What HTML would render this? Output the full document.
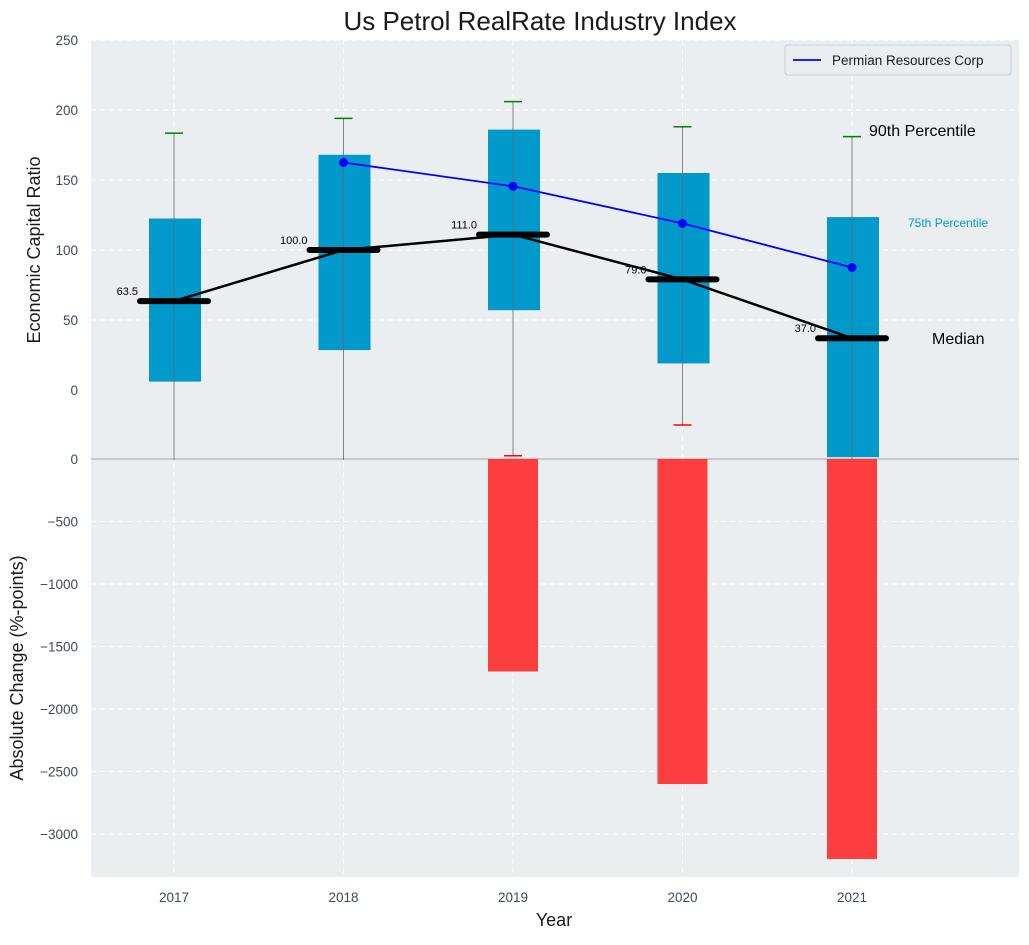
<!DOCTYPE html>
<html><head><meta charset="utf-8"><style>
body{margin:0;background:#fff;}
svg text{font-family:"Liberation Sans",sans-serif;}
</style></head><body>
<svg id="c" width="1029" height="940" xmlns="http://www.w3.org/2000/svg"></svg>
<script>
const years=[2017,2018,2019,2020,2021];
const q25=[6,28.5,57,19,-48];
const q75=[122.5,168,186,155,123.5];
const medians=[63.5,100,111,79,37];
const p90=[183.5,194,206,188,181];
const p10=[-50,-50,-47,-25,-50];
const permianYears=[2018,2019,2020,2021];
const permian=[162.5,145.5,119,87.5];
const changes=[0,0,-1700,-2600,-3200];
const topTicks=[0,50,100,150,200,250];
const botTicks=[0,-500,-1000,-1500,-2000,-2500,-3000];

const NS="http://www.w3.org/2000/svg";
const svg=document.getElementById('c');
function el(t,a,p){const e=document.createElementNS(NS,t);for(const k in a)e.setAttribute(k,a[k]);(p||svg).appendChild(e);return e;}
const X=v=>174+(v-2017)*169.5;
const YT=v=>390-v*1.4;
const YB=v=>459-v*0.125;
const L=91,R=1019;

let bg=el('rect',{x:L,y:40,width:R-L,height:837,fill:'#eaeef0'});

topTicks.forEach(t=>{if(t>0)el('line',{x1:L,x2:R,y1:YT(t),y2:YT(t),stroke:'#fff','stroke-dasharray':'5,4','stroke-width':1});
 let tx=el('text',{x:78,y:YT(t)+5,'text-anchor':'end','font-size':13.5,fill:'#3c4a5a'});tx.textContent=t;
 });
botTicks.forEach(t=>{if(t<0)el('line',{x1:L,x2:R,y1:YB(t),y2:YB(t),stroke:'#fff','stroke-dasharray':'5,4','stroke-width':1});
 let tx=el('text',{x:78,y:YB(t)+5,'text-anchor':'end','font-size':13.5,fill:'#3c4a5a'});tx.textContent=t===0?'':(t<0?'\u2212'+(-t):t);
 });
let z=el('text',{x:78,y:464,'text-anchor':'end','font-size':13.5,fill:'#3c4a5a'});z.textContent='0';
years.forEach(y=>{el('line',{x1:X(y),x2:X(y),y1:40,y2:877,stroke:'#fff','stroke-dasharray':'5,4'});
 let tx=el('text',{x:X(y),y:902,'text-anchor':'middle','font-size':13.5,fill:'#3c4a5a'});tx.textContent=y;
 });
el('line',{x1:L,x2:R,y1:459,y2:459,stroke:'#bbb','stroke-width':1.5});

years.forEach((y,i)=>{if(changes[i]<0){let r=el('rect',{x:X(y)-25,y:459,width:50,height:YB(changes[i])-459,fill:'#ff2a2a','fill-opacity':0.9});
 }});
years.forEach((y,i)=>{let r=el('rect',{x:X(y)-25,y:YT(q75[i]),width:52,height:YT(q25[i])-YT(q75[i]),fill:'#0099cc'});
 
 el('line',{x1:X(y),x2:X(y),y1:YT(p90[i]),y2:YT(p10[i]),stroke:'#666','stroke-width':1,'stroke-opacity':0.8});
 let c=el('line',{x1:X(y)-9,x2:X(y)+9,y1:YT(p90[i]),y2:YT(p90[i]),stroke:'green','stroke-width':1.5});
 
 if(p10[i]>-48){el('line',{x1:X(y)-9,x2:X(y)+9,y1:YT(p10[i]),y2:YT(p10[i]),stroke:'red','stroke-width':1.5});}
});
let mp=el('polyline',{points:years.map((y,i)=>X(y)+','+YT(medians[i])).join(' '),fill:'none',stroke:'#000','stroke-width':2.5});

years.forEach((y,i)=>{let m=el('line',{x1:X(y)-34,x2:X(y)+34,y1:YT(medians[i]),y2:YT(medians[i]),stroke:'#000','stroke-width':6,'stroke-linecap':'round'});
 
 let t=el('text',{x:X(y)-36,y:YT(medians[i])-6,'text-anchor':'end','font-size':11,fill:'#000'});t.textContent=medians[i].toFixed(1);
 });
let pl=el('polyline',{points:permianYears.map((y,i)=>X(y)+','+YT(permian[i])).join(' '),fill:'none',stroke:'#0000ff','stroke-width':1.8});

permianYears.forEach((y,i)=>{let c=el('circle',{cx:X(y),cy:YT(permian[i]),r:4.5,fill:'#0000ff'});
 });
function txt(s,a,n){let t=el('text',a);t.textContent=s;return t;}
txt('90th Percentile',{x:869,y:136,'font-size':16,fill:'#000'},'p90-annotation');
txt('75th Percentile',{x:908,y:227,'font-size':12,fill:'#0099cc'},'p75-annotation');
txt('Median',{x:932,y:344,'font-size':16,fill:'#000'},'median-annotation');
txt('Us Petrol RealRate Industry Index',{x:540,y:30,'text-anchor':'middle','font-size':26,fill:'#1a1a1a'},'chart-title');
txt('Year',{x:554,y:926,'text-anchor':'middle','font-size':18,fill:'#1a1a1a'},'x-axis-title');
txt('Economic Capital Ratio',{x:40,y:250,'text-anchor':'middle','font-size':18,fill:'#1a1a1a',transform:'rotate(-90 40 250)'},'y-axis-title-top');
txt('Absolute Change (%-points)',{x:23,y:668,'text-anchor':'middle','font-size':18,fill:'#1a1a1a',transform:'rotate(-90 23 668)'},'y-axis-title-bottom');
let lg=el('g',{});
el('rect',{x:785,y:45,width:226,height:30,rx:3,fill:'#eaeef0',stroke:'#ccc'},lg);
el('line',{x1:793,x2:821,y1:60,y2:60,stroke:'#0000ff','stroke-width':1.8},lg);
let lt=el('text',{x:832,y:65,'font-size':13.5,fill:'#1a1a1a'},lg);lt.textContent='Permian Resources Corp';
</script>
</body></html>
